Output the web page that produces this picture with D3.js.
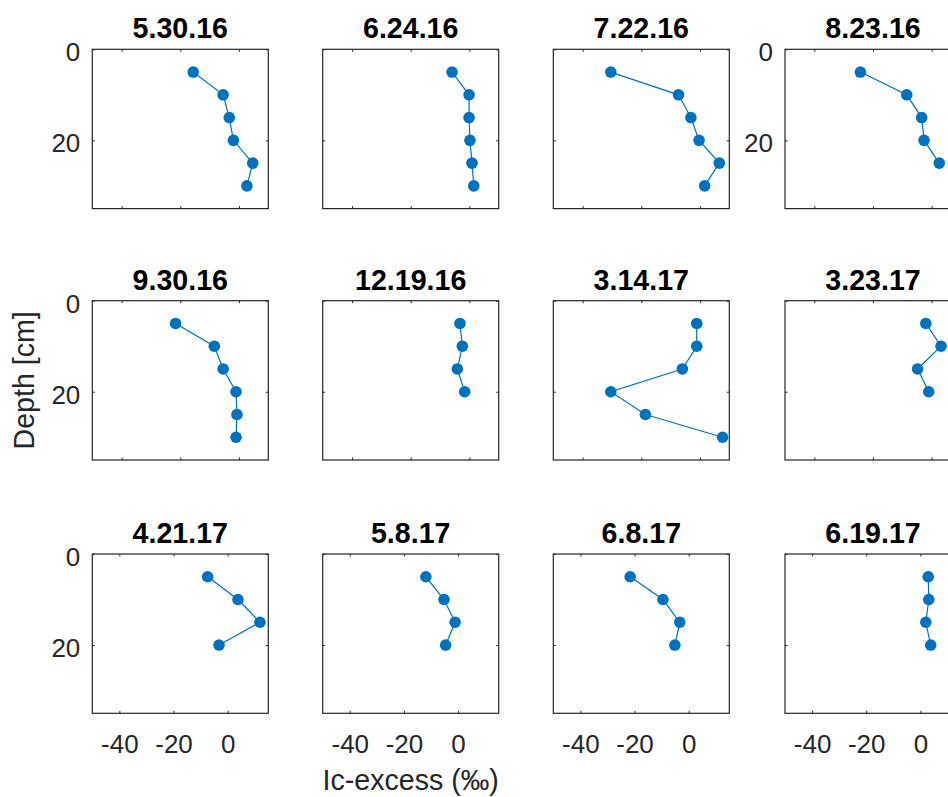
<!DOCTYPE html>
<html>
<head>
<meta charset="utf-8">
<script src="https://cdn.jsdelivr.net/npm/d3@7"></script>
<style>
  html, body { margin: 0; padding: 0; background: #fff; }
  svg { display: block; }
  text { font-family: "Liberation Sans", Arial, Helvetica, sans-serif; }
</style>
</head>
<body>
<svg id="chart" width="948" height="797"></svg>
<script>
// ---------------- data ----------------
const panelTitles = ["5.30.16", "6.24.16", "7.22.16", "8.23.16",
                     "9.30.16", "12.19.16", "3.14.17", "3.23.17",
                     "4.21.17", "5.8.17", "6.8.17", "6.19.17"];
const depths = [5, 10, 15, 20, 25, 30];          // cm
const lcExcess_053016 = [-15.6, -5.4, -3.3, -1.9, 4.7, 2.7];
const lcExcess_062416 = [-5.9, -0.1, -0.1, 0.2, 0.9, 1.5];
const lcExcess_072216 = [-30.4, -7.3, -3.1, -0.3, 6.6, 1.6];
const lcExcess_082316 = [-24.3, -8.5, -3.4, -2.6, 2.6];
const lcExcess_093016 = [-21.6, -8.4, -5.4, -1.0, -0.7, -1.0];
const lcExcess_121916 = [-3.2, -2.4, -4.1, -1.6];
const lcExcess_031417 = [-1.1, -1.1, -6.0, -30.4, -18.6, 7.7];
const lcExcess_032317 = [-2.0, 3.2, -4.8, -1.0];
const lcExcess_042117 = [-7.4, 3.8, 11.9, -3.2];
const lcExcess_050817 = [-11.9, -5.2, -1.1, -4.6];
const lcExcess_060817 = [-21.6, -9.5, -3.3, -5.1];
const lcExcess_061917 = [2.9, 3.1, 2.0, 3.8];
const panelValues = [lcExcess_053016, lcExcess_062416, lcExcess_072216, lcExcess_082316,
                     lcExcess_093016, lcExcess_121916, lcExcess_031417, lcExcess_032317,
                     lcExcess_042117, lcExcess_050817, lcExcess_060817, lcExcess_061917];
const xLimitsByRow = [[-50, 10], [-50, 10], [-50, 15]];
const yLimits = [0, 35];
const xTickValues = [-40, -20, 0];
const yTickValues = [0, 20];
const yTickLabelPanels = [0, 3, 4, 8];           // panels that show depth tick labels
const xTickLabelPanels = [8, 9, 10, 11];         // panels that show lc-excess tick labels
const xAxisTitle = "lc-excess (‰)".replace(/^l/, "I");
const yAxisTitle = "Depth [cm]";

// ---------------- layout ----------------
const colLeft = [92.3, 322.7, 553.3, 785];
const rowTop = [49.3, 300.7, 554];
const pw = 176, ph = 159.3;
const blue = "#0072BD";
const axisColor = "#262626";
const tickFont = 26, titleFont = 28.6;

const svg = d3.select("#chart");

panelTitles.forEach((title, i) => {
  const r = Math.floor(i / 4), c = i % 4;
  const L = colLeft[c], T = rowTop[r];
  const x = d3.scaleLinear().domain(xLimitsByRow[r]).range([0, pw]);
  const y = d3.scaleLinear().domain(yLimits).range([0, ph]);
  const g = svg.append("g").attr("transform", `translate(${L},${T})`);

  const showY = yTickLabelPanels.includes(i);
  const showX = xTickLabelPanels.includes(i);

  const tl = 2.5;
  const axB = d3.axisBottom(x).tickValues(xTickValues).tickSizeInner(-tl).tickSizeOuter(0)
    .tickPadding(21.5).tickFormat(showX ? d => d : () => "");
  const axT = d3.axisTop(x).tickValues(xTickValues).tickSizeInner(-tl).tickSizeOuter(0).tickFormat(() => "");
  const axL = d3.axisLeft(y).tickValues(yTickValues).tickSizeInner(-tl).tickSizeOuter(0)
    .tickPadding(12).tickFormat(showY ? d => d : () => "");
  const axR = d3.axisRight(y).tickValues(yTickValues).tickSizeInner(-tl).tickSizeOuter(0).tickFormat(() => "");

  const styleAxis = sel => {
    sel.select(".domain").remove();
    sel.selectAll(".tick line").attr("stroke", axisColor).attr("stroke-width", 1);
    sel.selectAll(".tick text").attr("fill", axisColor)
      .style("font-size", tickFont + "px")
      .style("font-family", '"Liberation Sans", Arial, Helvetica, sans-serif');
  };
  g.append("g").attr("transform", `translate(0,${ph})`).call(axB).call(styleAxis);
  g.append("g").call(axT).call(styleAxis);
  const gl = g.append("g").call(axL).call(styleAxis);
  gl.selectAll(".tick text").attr("dy", "0.44em");
  g.append("g").attr("transform", `translate(${pw},0)`).call(axR).call(styleAxis);

  g.append("rect").attr("x", 0).attr("y", 0).attr("width", pw).attr("height", ph)
    .attr("fill", "none").attr("stroke", axisColor).attr("stroke-width", 1.2);

  const vals = panelValues[i];
  const pts = vals.map((v, k) => [v, depths[k]]);
  g.append("path").datum(pts)
    .attr("d", d3.line().x(d => x(d[0])).y(d => y(d[1])))
    .attr("fill", "none").attr("stroke", blue).attr("stroke-width", 1.2);
  g.selectAll("circle.pt").data(pts).join("circle").attr("class", "pt")
    .attr("cx", d => x(d[0])).attr("cy", d => y(d[1])).attr("r", 5.8)
    .attr("fill", blue);

  g.append("text").attr("x", pw / 2).attr("y", -11)
    .attr("text-anchor", "middle").attr("fill", "#000")
    .style("font-size", titleFont + "px").style("font-weight", "bold")
    .text(title);

  if (i === 4) {
    g.append("text")
      .attr("transform", `translate(${34 - L},${ph / 2}) rotate(-90)`)
      .attr("text-anchor", "middle").attr("fill", axisColor)
      .style("font-size", titleFont + "px")
      .text(yAxisTitle);
  }
  if (i === 9) {
    g.append("text").attr("x", pw / 2).attr("y", ph + 77)
      .attr("text-anchor", "middle").attr("fill", axisColor)
      .style("font-size", titleFont + "px")
      .text(xAxisTitle);
  }
});
</script>
</body>
</html>
